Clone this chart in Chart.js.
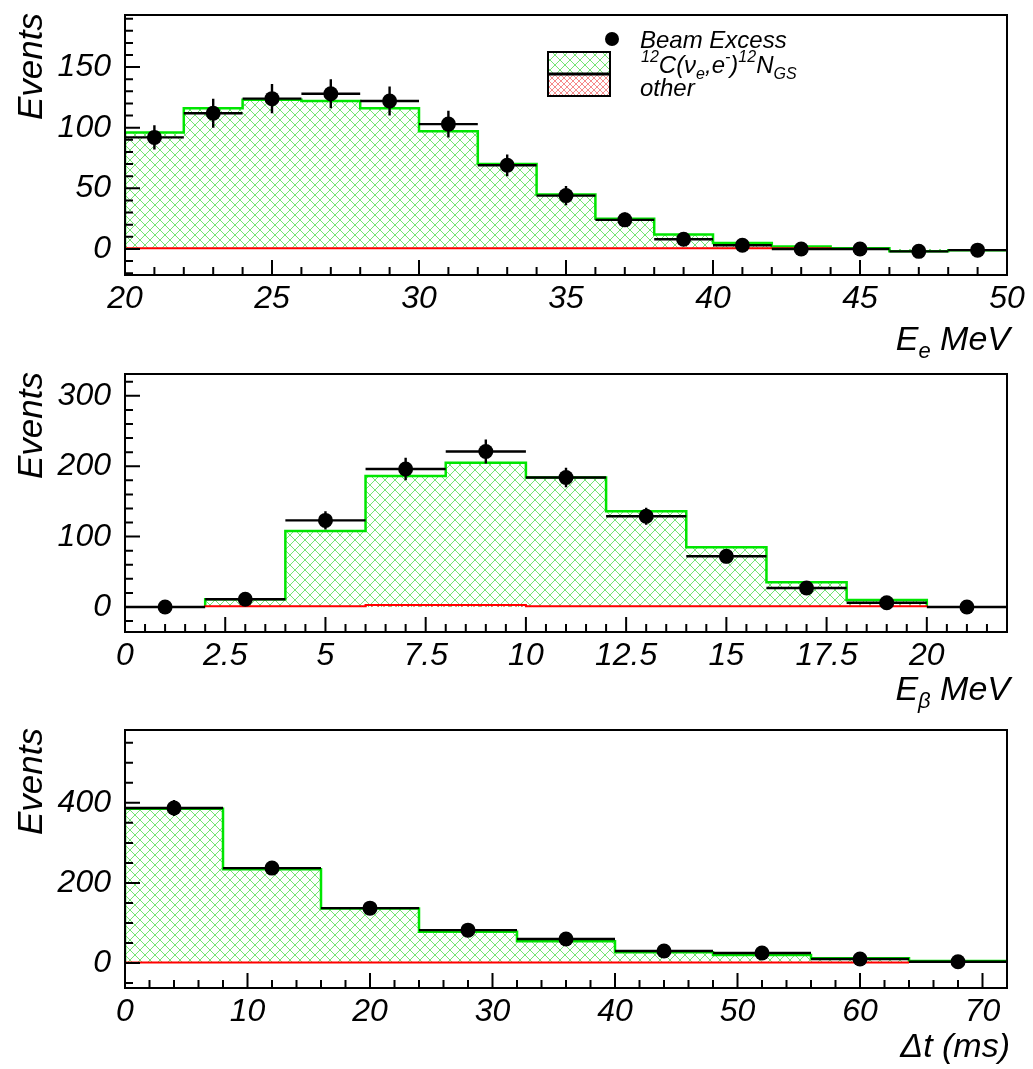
<!DOCTYPE html>
<html>
<head>
<meta charset="utf-8">
<script src="https://cdn.jsdelivr.net/npm/chart.js@4.4.1/dist/chart.umd.min.js"></script>
<style>
  body { margin: 0; background: #fff; }
  #wrap { position: relative; width: 1033px; height: 1069px; }
  canvas { position: absolute; left: 0; }
</style>
</head>
<body>
<div id="wrap">
  <canvas id="eeChart" width="1033" height="372" style="top:0px"></canvas>
  <canvas id="ebChart" width="1033" height="372" style="top:355px"></canvas>
  <canvas id="dtChart" width="1033" height="359" style="top:710px"></canvas>
</div>
<script>
// electron energy, 2 MeV bins
const eeEdges = [20, 22, 24, 26, 28, 30, 32, 34, 36, 38, 40, 42, 44, 46, 48, 50];
const eeExcess = [92, 112, 124, 128, 122, 103, 69, 44, 24, 8, 3, 0, 0, -2, -1];
const eeExcessErr = [10, 12, 12, 12, 12, 11, 9, 8, 6, 5, 4, 4, 4, 4, 4];
const eeSignal = [96, 116, 123, 122, 116, 97, 70, 45, 25, 12, 5, 2, 0.5, -2, -1];
const eeOther = [0.5, 0.5, 0.5, 0.5, 0.5, 0.5, 0.5, 0.5, 0.5, 0.5, 0.5, 0.5, null, null, null];
const eeXTicks = [20, 25, 30, 35, 40, 45, 50];
const eeYTicks = [0, 50, 100, 150];

// beta energy, 2 MeV bins
const ebEdges = [0, 2, 4, 6, 8, 10, 12, 14, 16, 18, 20, 22];
const ebExcess = [0, 11, 123, 196, 221, 184, 129, 72, 27, 6, 0];
const ebExcessErr = [4, 6, 13, 16, 17, 14, 12, 10, 7, 5, 3];
const ebSignal = [null, 11, 108, 186, 205, 184, 136, 85, 35, 10, null];
const ebOther = [null, 1, 1, 3, 3, 1, 1, 1, 1, 1, null];
const ebXTicks = [0, 2.5, 5, 7.5, 10, 12.5, 15, 17.5, 20];
const ebYTicks = [0, 100, 200, 300];

// time to beta decay, 8 ms bins
const dtEdges = [0, 8, 16, 24, 32, 40, 48, 56, 64, 72];
const dtExcess = [387, 237, 137, 82, 60, 30, 25, 10, 3];
const dtExcessErr = [20, 15, 12, 10, 9, 8, 7, 6, 5];
const dtSignal = [385, 234, 136, 78, 54, 27, 20, 12, 5];
const dtOther = [1, 1, 1, 1, 1, 1, 1, 1, null];
const dtXTicks = [0, 10, 20, 30, 40, 50, 60, 70];
const dtYTicks = [0, 200, 400];

const FONT = '"Liberation Sans", Arial, sans-serif';

function hatch(color, step) {
  const c = document.createElement('canvas');
  c.width = step; c.height = step;
  const g = c.getContext('2d');
  g.strokeStyle = color;
  g.lineWidth = 1;
  g.beginPath();
  g.moveTo(0, 0); g.lineTo(step, step);
  g.moveTo(step, 0); g.lineTo(0, step);
  g.stroke();
  return g.createPattern(c, 'repeat');
}
const greenHatch = hatch('rgba(70,220,70,0.75)', 10);
const redHatch = hatch('rgba(240,60,60,0.6)', 6);

// outline of a filled histogram, skipping empty (null) bins at the ends
function stepPoints(edges, values) {
  const pts = [];
  let last = null;
  values.forEach((v, i) => {
    if (v === null) return;
    if (last === null) pts.push({ x: edges[i], y: 0 });
    pts.push({ x: edges[i], y: v });
    last = i;
  });
  pts.push({ x: edges[last + 1], y: values[last] });
  pts.push({ x: edges[last + 1], y: 0 });
  return pts;
}

function centers(edges, values) {
  return values.map((v, i) => ({ x: (edges[i] + edges[i + 1]) / 2, y: v }));
}

// rich text: parts are {t, size, dy}
function drawRich(ctx, x, base, parts, align) {
  const widths = parts.map(p => {
    ctx.font = 'italic ' + p.size + 'px ' + FONT;
    return ctx.measureText(p.t).width;
  });
  const total = widths.reduce((a, b) => a + b, 0);
  let cx = align === 'right' ? x - total : x;
  parts.forEach((p, i) => {
    ctx.font = 'italic ' + p.size + 'px ' + FONT;
    ctx.fillText(p.t, cx, base + (p.dy || 0));
    cx += widths[i];
  });
}

// error bars of the data points: full bin width and +-err
const errorBars = {
  id: 'errorBars',
  afterDatasetsDraw(chart, args, o) {
    const { ctx, chartArea: a, scales: { x, y } } = chart;
    ctx.save();
    ctx.beginPath();
    ctx.rect(a.left, a.top, a.width, a.height);
    ctx.clip();
    ctx.strokeStyle = '#000';
    ctx.lineWidth = 2.4;
    ctx.beginPath();
    o.values.forEach((v, i) => {
      const yp = y.getPixelForValue(v);
      ctx.moveTo(x.getPixelForValue(o.edges[i]), yp);
      ctx.lineTo(x.getPixelForValue(o.edges[i + 1]), yp);
      const xc = x.getPixelForValue((o.edges[i] + o.edges[i + 1]) / 2);
      ctx.moveTo(xc, y.getPixelForValue(v - o.err[i]));
      ctx.lineTo(xc, y.getPixelForValue(v + o.err[i]));
    });
    ctx.stroke();
    ctx.restore();
  }
};

// frame with inward major/minor ticks, axis titles and legend
const frame = {
  id: 'frame',
  afterDraw(chart, args, o) {
    const { ctx, chartArea: a, scales: { x, y } } = chart;
    const isMajor = (v, m) => Math.abs(v / m - Math.round(v / m)) < 1e-6;
    ctx.save();
    ctx.strokeStyle = '#000';
    ctx.lineWidth = 2;
    ctx.beginPath();
    for (let n = Math.ceil(x.min / o.xMinor - 1e-9); n * o.xMinor <= x.max + 1e-9; n++) {
      const v = n * o.xMinor;
      const px = x.getPixelForValue(v);
      ctx.moveTo(px, a.bottom);
      ctx.lineTo(px, a.bottom - (isMajor(v, o.xMajor) ? 15 : 8));
    }
    for (let n = Math.ceil(y.min / o.yMinor - 1e-9); n * o.yMinor <= y.max + 1e-9; n++) {
      const v = n * o.yMinor;
      const py = y.getPixelForValue(v);
      ctx.moveTo(a.left, py);
      ctx.lineTo(a.left + (isMajor(v, o.yMajor) ? 15 : 8), py);
    }
    ctx.stroke();
    ctx.strokeRect(a.left, a.top, a.width, a.height);

    ctx.fillStyle = '#000';
    ctx.save();
    ctx.translate(42, a.top - 2);
    ctx.rotate(-Math.PI / 2);
    ctx.textBaseline = 'alphabetic';
    drawRich(ctx, 0, 0, [{ t: 'Events', size: 35 }], 'right');
    ctx.restore();

    drawRich(ctx, o.titleRight, o.titleBase, o.xTitle, 'right');

    if (o.legend) {
      ctx.fillStyle = greenHatch;
      ctx.fillRect(548, 52, 62, 22);
      ctx.fillStyle = redHatch;
      ctx.fillRect(548, 74, 62, 22);
      ctx.strokeStyle = '#000';
      ctx.lineWidth = 2;
      ctx.strokeRect(548, 52, 62, 44);
      ctx.lineWidth = 3;
      ctx.beginPath();
      ctx.moveTo(548, 74); ctx.lineTo(610, 74);
      ctx.stroke();
      ctx.fillStyle = '#000';
      ctx.beginPath();
      ctx.arc(612, 39, 7, 0, Math.PI * 2);
      ctx.fill();
      drawRich(ctx, 640, 48, [{ t: 'Beam Excess', size: 24 }]);
      drawRich(ctx, 641, 73, [
        { t: '12', size: 16, dy: -11 }, { t: 'C(ν', size: 24 }, { t: 'e', size: 16, dy: 6 },
        { t: ',e', size: 24 }, { t: '-', size: 16, dy: -11 }, { t: ')', size: 24 },
        { t: '12', size: 16, dy: -11 }, { t: 'N', size: 24 }, { t: 'GS', size: 16, dy: 6 }
      ]);
      drawRich(ctx, 640, 96, [{ t: 'other', size: 24 }]);
    }
    ctx.restore();
  }
};

function makePanel(p) {
  const canvas = document.getElementById(p.id);
  const H = canvas.height;
  return new Chart(canvas, {
    data: {
      datasets: [
        {
          type: 'scatter',
          label: 'Beam Excess',
          data: centers(p.edges, p.excess),
          pointRadius: 7.5,
          pointHoverRadius: 7.5,
          backgroundColor: '#000',
          borderWidth: 0,
          order: 0
        },
        {
          type: 'line',
          label: 'other',
          data: stepPoints(p.edges, p.other),
          stepped: 'before',
          borderColor: '#ff0000',
          borderWidth: 2,
          backgroundColor: redHatch,
          fill: 'origin',
          pointRadius: 0,
          order: 1
        },
        {
          type: 'line',
          label: 'signal',
          data: stepPoints(p.edges, p.signal),
          stepped: 'before',
          borderColor: '#00e600',
          borderWidth: 2.5,
          backgroundColor: greenHatch,
          fill: 'origin',
          pointRadius: 0,
          order: 2
        }
      ]
    },
    options: {
      responsive: false,
      animation: false,
      events: [],
      layout: { padding: { top: p.top, right: 26, left: 0, bottom: 0 } },
      scales: {
        x: {
          type: 'linear',
          min: p.xMin,
          max: p.xMax,
          afterBuildTicks: s => { s.ticks = p.xTicks.map(v => ({ value: v })); },
          afterFit: s => { s.height = H - p.bottom; s.paddingLeft = 0; s.paddingRight = 0; },
          grid: { display: false, drawTicks: false },
          border: { display: false },
          ticks: {
            color: '#000',
            padding: 5,
            maxRotation: 0,
            autoSkip: false,
            font: { family: FONT, size: 32, style: 'italic' },
            callback: v => String(v)
          }
        },
        y: {
          type: 'linear',
          min: p.yMin,
          max: p.yMax,
          afterBuildTicks: s => { s.ticks = p.yTicks.map(v => ({ value: v })); },
          afterFit: s => { s.width = 125; s.paddingTop = 0; s.paddingBottom = 0; },
          grid: { display: false, drawTicks: false },
          border: { display: false },
          ticks: {
            color: '#000',
            padding: 14,
            font: { family: FONT, size: 32, style: 'italic' },
            callback: v => String(v)
          }
        }
      },
      plugins: {
        legend: { display: false },
        tooltip: { enabled: false },
        errorBars: { edges: p.edges, values: p.excess, err: p.err },
        frame: {
          xMinor: p.xMinor, xMajor: p.xMajor, yMinor: p.yMinor, yMajor: p.yMajor,
          xTitle: p.xTitle, titleRight: 1010, titleBase: p.titleBase, legend: !!p.legend
        }
      }
    },
    plugins: [errorBars, frame]
  });
}

makePanel({
  id: 'eeChart', edges: eeEdges, excess: eeExcess, err: eeExcessErr, signal: eeSignal, other: eeOther,
  xTicks: eeXTicks, yTicks: eeYTicks, xMin: 20, xMax: 50, yMin: -21.5, yMax: 193,
  xMinor: 1, xMajor: 5, yMinor: 10, yMajor: 50, top: 15, bottom: 275, titleBase: 350,
  xTitle: [{ t: 'E', size: 34 }, { t: 'e', size: 22, dy: 8 }, { t: ' MeV', size: 34 }],
  legend: true
});

makePanel({
  id: 'ebChart', edges: ebEdges, excess: ebExcess, err: ebExcessErr, signal: ebSignal, other: ebOther,
  xTicks: ebXTicks, yTicks: ebYTicks, xMin: 0, xMax: 22, yMin: -35.5, yMax: 331,
  xMinor: 0.5, xMajor: 2.5, yMinor: 20, yMajor: 100, top: 19, bottom: 277, titleBase: 345,
  xTitle: [{ t: 'E', size: 34 }, { t: 'β', size: 22, dy: 8 }, { t: ' MeV', size: 34 }]
});

makePanel({
  id: 'dtChart', edges: dtEdges, excess: dtExcess, err: dtExcessErr, signal: dtSignal, other: dtOther,
  xTicks: dtXTicks, yTicks: dtYTicks, xMin: 0, xMax: 72, yMin: -62.5, yMax: 582,
  xMinor: 2, xMajor: 10, yMinor: 50, yMajor: 200, top: 20, bottom: 278, titleBase: 347,
  xTitle: [{ t: 'Δt (ms)', size: 34 }]
});
</script>
</body>
</html>
